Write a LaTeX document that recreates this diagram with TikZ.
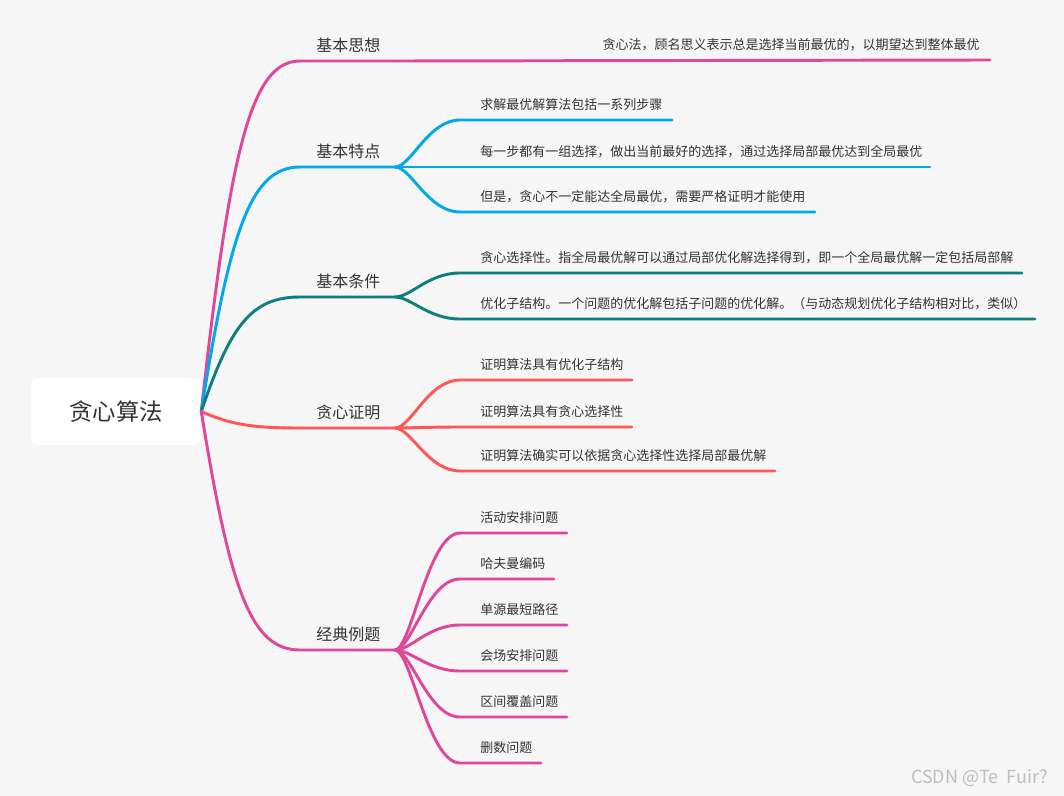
\documentclass[tikz,border=0pt]{standalone}
\usepackage{fontspec}
\setmainfont{Noto Sans CJK SC}
\usepackage{tikz}
\usetikzlibrary{calc, positioning}
\definecolor{Canvas}{HTML}{F6F6F6}
\definecolor{Ink}   {HTML}{333333}
\definecolor{Rose}  {HTML}{DF4899}
\definecolor{Sky}   {HTML}{00A8EC}
\definecolor{Teal}  {HTML}{107E7F}
\definecolor{Coral} {HTML}{FF5658}
\definecolor{Mark}  {HTML}{BDBDBD}

\begin{document}
\begin{tikzpicture}[x=0.75pt, y=-0.75pt,
    rootbox/.style={fill=white, rounded corners=4.5pt, minimum width=127.5pt,
                    minimum height=50pt, inner sep=0pt, text=Ink,
                    font=\fontsize{17.5}{20}\selectfont},
    topic/.style={anchor=west, inner sep=0pt, text=Ink, font=\fontsize{12}{14}\selectfont},
    leaf/.style={anchor=west, inner sep=0pt, text=Ink, font=\fontsize{9.75}{11}\selectfont},
    link/.style={line width=2.2pt, line cap=round}]
  \fill[Canvas] (0,0) rectangle (1064,796);
  \node[rootbox] (root) at (116,411.5) {贪心算法};
  % Main topics
  \foreach \n/\y/\c/\txt in {1/61/Rose/基本思想, 2/167/Sky/基本特点, 3/297/Teal/基本条件,
                             4/428/Coral/贪心证明, 5/650/Rose/经典例题}{
    \pgfmathsetmacro\dy{0.75*(\y-411)}
    \coordinate (a\n) at (300,\y);
    \coordinate (b\n) at (395,\y);
    \node[topic] (t\n) at (316,\y-16) {\txt};
    \draw[link, \c] (root.east) .. controls +(29,\dy) and +(-49,0) .. (a\n) -- (b\n);
  }
  % Leaf of the first topic
  \coordinate (e0) at (990,60);
  \node[leaf, anchor=east] (l0) at (980,45) {贪心法，顾名思义表示总是选择当前最优的，以期望达到整体最优};
  \draw[link, Rose] (b1) -- (e0);
  % Other leaves
  \foreach \p/\c/\ly/\lx/\txt [count=\k] in {
      2/Sky/120/672/求解最优解算法包括一系列步骤,
      2/Sky/167/930/每一步都有一组选择，做出当前最好的选择，通过选择局部最优达到全局最优,
      2/Sky/212/815/但是，贪心不一定能达全局最优，需要严格证明才能使用,
      3/Teal/273/1022/贪心选择性。指全局最优解可以通过局部优化解选择得到，即一个全局最优解一定包括局部解,
      3/Teal/319/1035/优化子结构。一个问题的优化解包括子问题的优化解。（与动态规划优化子结构相对比，类似）,
      4/Coral/380/632/证明算法具有优化子结构,
      4/Coral/427/632/证明算法具有贪心选择性,
      4/Coral/471/775/证明算法确实可以依据贪心选择性选择局部最优解,
      5/Rose/533/567/活动安排问题,
      5/Rose/579/554/哈夫曼编码,
      5/Rose/625/567/单源最短路径,
      5/Rose/671/567/会场安排问题,
      5/Rose/717/567/区间覆盖问题,
      5/Rose/763/541/删数问题}{
    \coordinate (c\k) at (460,\ly);
    \coordinate (e\k) at (\lx,\ly);
    \node[leaf] (l\k) at (480,\ly-15) {\txt};
    \draw[link, \c] (b\p) .. controls +(16,0) and +(-32,0) .. (c\k) -- (e\k);
  }
  \node[anchor=east, inner sep=0pt, text=Mark, font=\fontsize{13.5}{15}\selectfont]
    (mark) at (1048,778) {CSDN @Te~~Fuir?};
\end{tikzpicture}
\end{document}
